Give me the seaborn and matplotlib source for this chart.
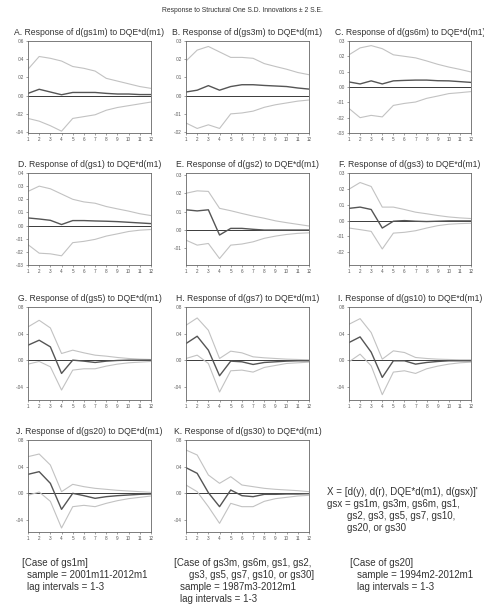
import matplotlib
matplotlib.use("Agg")
import matplotlib.pyplot as plt
from matplotlib.ticker import FuncFormatter
import seaborn as sns

# ==========================================================
# Data (impulse responses, +/- 2 S.E. bands), steps 1..12
# ==========================================================

steps = list(range(1, 13))

A_resp = [0.0025, 0.007, 0.004, 0.001, 0.0035, 0.0035, 0.0035, 0.0025, 0.0018, 0.0018, 0.0012, 0.0012]
A_up = [0.029, 0.043, 0.041, 0.038, 0.032, 0.030, 0.027, 0.019, 0.016, 0.013, 0.010, 0.008]
A_lo = [-0.025, -0.028, -0.033, -0.039, -0.025, -0.023, -0.021, -0.016, -0.013, -0.011, -0.009, -0.007]

B_resp = [0.002, 0.003, 0.0055, 0.003, 0.005, 0.006, 0.006, 0.0056, 0.0053, 0.005, 0.0042, 0.0036]
B_up = [0.019, 0.025, 0.027, 0.024, 0.021, 0.021, 0.0205, 0.0176, 0.016, 0.0145, 0.0127, 0.0115]
B_lo = [-0.015, -0.018, -0.016, -0.018, -0.010, -0.0095, -0.0085, -0.0064, -0.005, -0.004, -0.003, -0.0024]

C_resp = [0.0033, 0.002, 0.004, 0.002, 0.004, 0.0043, 0.0045, 0.0045, 0.0041, 0.004, 0.0035, 0.003]
C_up = [0.021, 0.0255, 0.027, 0.025, 0.021, 0.020, 0.019, 0.017, 0.0148, 0.013, 0.0115, 0.0098]
C_lo = [-0.014, -0.020, -0.0185, -0.0195, -0.012, -0.0107, -0.0098, -0.0074, -0.0059, -0.0043, -0.0037, -0.003]

D_resp = [0.0058, 0.005, 0.004, 0.0008, 0.0038, 0.0038, 0.0035, 0.0033, 0.003, 0.0025, 0.002, 0.0015]
D_up = [0.026, 0.030, 0.028, 0.024, 0.020, 0.018, 0.017, 0.0145, 0.0127, 0.011, 0.009, 0.0076]
D_lo = [-0.0145, -0.021, -0.0215, -0.023, -0.013, -0.012, -0.0105, -0.008, -0.0063, -0.0045, -0.0035, -0.003]

E_resp = [0.011, 0.0104, 0.011, -0.0027, 0.0009, 0.0009, 0.0004, 0.0, 0.0, 0.0, 0.0, 0.0]
E_up = [0.020, 0.0213, 0.021, 0.0118, 0.0105, 0.009, 0.0076, 0.0064, 0.005, 0.004, 0.0031, 0.0022]
E_lo = [-0.0055, -0.0082, -0.0073, -0.0155, -0.0082, -0.0076, -0.0064, -0.0045, -0.0033, -0.0024, -0.0018, -0.0015]

F_resp = [0.0077, 0.0085, 0.007, -0.0047, -0.0004, 0.0, -0.0004, -0.0006, -0.0004, -0.0002, -0.0002, -0.0002]
F_up = [0.0198, 0.024, 0.0215, 0.0085, 0.0085, 0.007, 0.0053, 0.0043, 0.0032, 0.0023, 0.0017, 0.0013]
F_lo = [-0.0047, -0.0057, -0.0068, -0.0179, -0.0079, -0.0074, -0.0064, -0.0047, -0.0032, -0.0023, -0.0019, -0.0017]

G_resp = [0.0225, 0.030, 0.020, -0.020, 0.0, -0.0015, -0.0035, -0.0015, -0.0005, 0.0, 0.0, 0.0]
G_up = [0.050, 0.060, 0.0485, 0.010, 0.015, 0.011, 0.0075, 0.006, 0.004, 0.0025, 0.0015, 0.001]
G_lo = [-0.006, -0.002, -0.010, -0.045, -0.015, -0.013, -0.013, -0.009, -0.006, -0.004, -0.003, -0.002]

H_resp = [0.025, 0.036, 0.015, -0.0235, -0.0015, -0.0025, -0.0065, -0.0035, -0.0025, -0.0015, -0.001, -0.001]
H_up = [0.0525, 0.0635, 0.045, 0.0025, 0.0135, 0.011, 0.005, 0.0035, 0.0025, 0.0015, 0.001, 0.0005]
H_lo = [0.0025, 0.0075, -0.005, -0.048, -0.016, -0.015, -0.018, -0.011, -0.008, -0.005, -0.004, -0.003]

I_resp = [0.0265, 0.035, 0.012, -0.026, -0.001, -0.001, -0.006, -0.0035, -0.002, -0.001, -0.001, -0.001]
I_up = [0.054, 0.0625, 0.0415, 0.0015, 0.014, 0.0115, 0.004, 0.0025, 0.0015, 0.001, 0.0005, 0.0005]
I_lo = [-0.0025, 0.009, -0.0085, -0.052, -0.018, -0.016, -0.020, -0.013, -0.009, -0.006, -0.004, -0.003]

J_resp = [0.0285, 0.0325, 0.015, -0.024, 0.0, -0.0035, -0.0075, -0.005, -0.0035, -0.0025, -0.0015, -0.001]
J_up = [0.055, 0.059, 0.0425, 0.0025, 0.0135, 0.010, 0.0075, 0.006, 0.0045, 0.0035, 0.0025, 0.0015]
J_lo = [-0.003, 0.002, -0.012, -0.052, -0.020, -0.018, -0.020, -0.015, -0.011, -0.008, -0.006, -0.004]

K_resp = [0.0385, 0.030, 0.001, -0.020, 0.005, -0.0035, -0.005, -0.0015, -0.0015, -0.001, -0.001, -0.0005]
K_up = [0.065, 0.0575, 0.0275, 0.015, 0.025, 0.0125, 0.010, 0.0075, 0.006, 0.005, 0.004, 0.0025]
K_lo = [0.0125, 0.0025, -0.020, -0.045, -0.015, -0.020, -0.020, -0.012, -0.008, -0.006, -0.004, -0.003]

panel_titles = [
    "A. Response of d(gs1m) to DQE*d(m1)",
    "B. Response of d(gs3m) to DQE*d(m1)",
    "C. Response of d(gs6m) to DQE*d(m1)",
    "D. Response of d(gs1) to DQE*d(m1)",
    "E. Response of d(gs2) to DQE*d(m1)",
    "F. Response of d(gs3) to DQE*d(m1)",
    "G. Response of d(gs5) to DQE*d(m1)",
    "H. Response of d(gs7) to DQE*d(m1)",
    "I. Response of d(gs10) to DQE*d(m1)",
    "J. Response of d(gs20) to DQE*d(m1)",
    "K. Response of d(gs30) to DQE*d(m1)",
]

panel_series = [
    (A_resp, A_up, A_lo), (B_resp, B_up, B_lo), (C_resp, C_up, C_lo),
    (D_resp, D_up, D_lo), (E_resp, E_up, E_lo), (F_resp, F_up, F_lo),
    (G_resp, G_up, G_lo), (H_resp, H_up, H_lo), (I_resp, I_up, I_lo),
    (J_resp, J_up, J_lo), (K_resp, K_up, K_lo),
]

# y-axis limits and ticks of each panel
panel_ylims = [(-0.041, 0.06), (-0.0205, 0.03), (-0.03, 0.03),
               (-0.03, 0.04), (-0.019, 0.031), (-0.028, 0.03),
               (-0.06, 0.08), (-0.06, 0.08), (-0.06, 0.08),
               (-0.058, 0.08), (-0.058, 0.08)]
panel_yticks = [[-.04, -.02, 0, .02, .04, .06], [-.02, -.01, 0, .01, .02, .03],
                [-.03, -.02, -.01, 0, .01, .02, .03],
                [-.03, -.02, -.01, 0, .01, .02, .03, .04],
                [-.01, 0, .01, .02, .03], [-.02, -.01, 0, .01, .02, .03],
                [-.04, 0, .04, .08], [-.04, 0, .04, .08], [-.04, 0, .04, .08],
                [-.04, 0, .04, .08], [-.04, 0, .04, .08]]

# ==========================================================
# Layout (pixels of a 484x606 canvas)
# ==========================================================

W, H = 484, 606
col_x = [(28, 151), (186, 309), (349, 471)]
row_y = [(41, 133), (173, 265), (307, 400), (440, 532)]

sns.set_theme(style="white")
plt.rcParams["font.family"] = ["Liberation Sans", "DejaVu Sans"]

fig = plt.figure(figsize=(W / 100, H / 100), dpi=100)
fig.patch.set_facecolor("white")


def fmt(v, pos):
    s = "%.2f" % v
    if abs(v) < 1e-9:
        return ".00"
    return s.replace("0.", ".")


for i, (title, (resp, up, lo)) in enumerate(zip(panel_titles, panel_series)):
    r, c = divmod(i, 3)
    x0, x1 = col_x[c]
    y0, y1 = row_y[r]
    ax = fig.add_axes([x0 / W, 1 - y1 / H, (x1 - x0) / W, (y1 - y0) / H])

    ax.axhline(0, color="#3a3a3a", lw=0.7, zorder=1)
    sns.lineplot(x=steps, y=up, ax=ax, color="#c2c2c2", lw=0.8)
    sns.lineplot(x=steps, y=lo, ax=ax, color="#c2c2c2", lw=0.8)
    sns.lineplot(x=steps, y=resp, ax=ax, color="#555555", lw=1.0)

    ax.set_xlim(1, 12)
    ax.set_ylim(*panel_ylims[i])
    ax.set_xticks(steps)
    ax.set_yticks(panel_yticks[i])
    ax.yaxis.set_major_formatter(FuncFormatter(fmt))
    ax.tick_params(axis="both", labelsize=3.3, colors="#555555", length=1.5,
                   width=0.4, pad=1.5, direction="out", left=True, bottom=True)
    for sp in ax.spines.values():
        sp.set_color("#666666")
        sp.set_linewidth(0.6)
    ax.set_xlabel("")
    ax.set_ylabel("")
    ax.set_title(title, fontsize=6.2, color="#333333", pad=4)

# ==========================================================
# Text
# ==========================================================

fig.text(242 / W, 1 - 11 / H, "Response to Structural One S.D. Innovations \u00b1 2 S.E.",
         ha="center", va="center", fontsize=4.9, color="#333333")

txt = dict(fontsize=7, color="#333333", va="center", ha="left")

fig.text(327 / W, 1 - 492 / H, "X = [d(y), d(r), DQE*d(m1), d(gsx)]'", **txt)
fig.text(327 / W, 1 - 504 / H, "gsx = gs1m, gs3m, gs6m, gs1,", **txt)
fig.text(347 / W, 1 - 516 / H, "gs2, gs3, gs5, gs7, gs10,", **txt)
fig.text(347 / W, 1 - 528 / H, "gs20, or gs30", **txt)

fig.text(22 / W, 1 - 563 / H, "[Case of gs1m]", **txt)
fig.text(27 / W, 1 - 575 / H, "sample = 2001m11-2012m1", **txt)
fig.text(27 / W, 1 - 587 / H, "lag intervals = 1-3", **txt)

fig.text(174 / W, 1 - 563 / H, "[Case of gs3m, gs6m, gs1, gs2,", **txt)
fig.text(189 / W, 1 - 575 / H, "gs3, gs5, gs7, gs10, or gs30]", **txt)
fig.text(180 / W, 1 - 587 / H, "sample = 1987m3-2012m1", **txt)
fig.text(180 / W, 1 - 599 / H, "lag intervals = 1-3", **txt)

fig.text(350 / W, 1 - 563 / H, "[Case of gs20]", **txt)
fig.text(357 / W, 1 - 575 / H, "sample = 1994m2-2012m1", **txt)
fig.text(357 / W, 1 - 587 / H, "lag intervals = 1-3", **txt)

fig.savefig("out.png", dpi=100)
